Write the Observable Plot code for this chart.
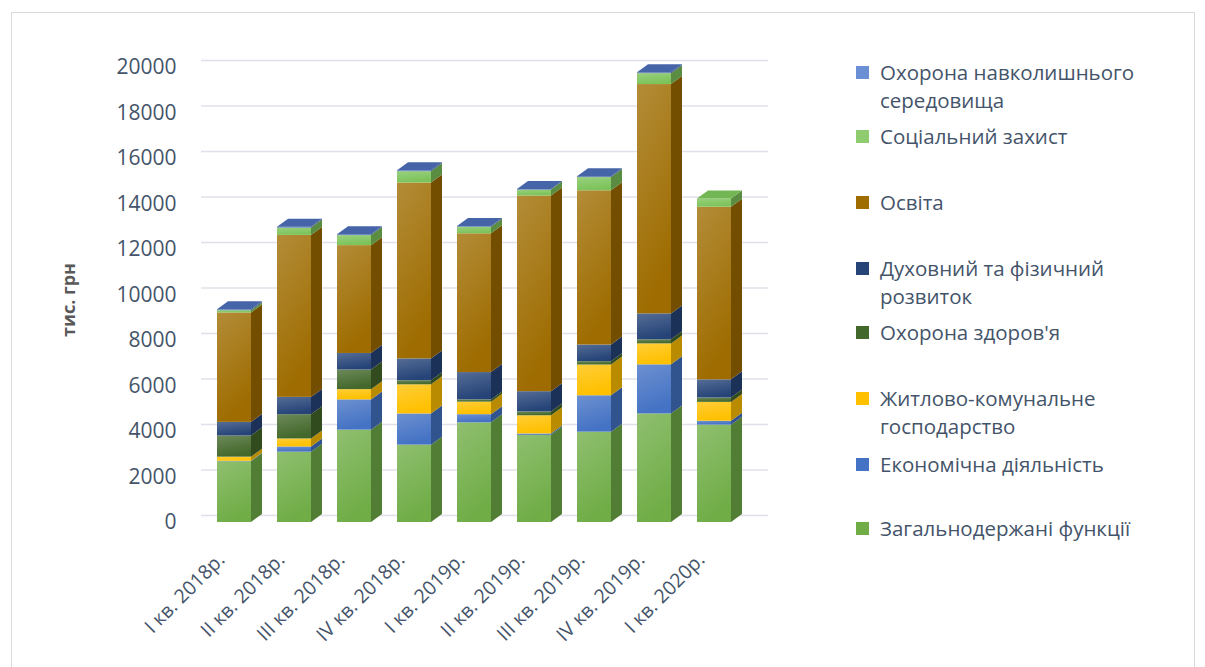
<!DOCTYPE html>
<html><head><meta charset="utf-8">
<script src="https://cdn.jsdelivr.net/npm/d3@7"></script>
<script src="https://cdn.jsdelivr.net/npm/@observablehq/plot@0.6"></script>
<style>
body{margin:0;background:#fff;font-family:"Open Sans",sans-serif;}
#frame{position:absolute;left:11px;top:12px;width:1184px;height:660px;border:1px solid #d9d9d9;box-sizing:border-box;}
#chart{position:absolute;left:0;top:0;}
#ylab{position:absolute;left:68px;top:300px;transform:translate(-50%,-50%) rotate(-90deg);font-weight:bold;font-size:18px;color:#595959;white-space:nowrap;}
.leg{position:absolute;left:880px;width:310px;font-size:20.5px;line-height:28px;color:#44546a;}
.sw{position:absolute;left:-24px;top:8px;width:13px;height:13px;}
</style></head>
<body>
<div id="frame"></div>
<div id="chart"></div>
<div id="ylab">тис. грн</div>
<div id="legend"></div>
<script>
const quarters = ["I кв. 2018р.", "II кв. 2018р.", "III кв. 2018р.", "IV кв. 2018р.", "I кв. 2019р.", "II кв. 2019р.", "III кв. 2019р.", "IV кв. 2019р.", "I кв. 2020р."];
const seriesNames = ["Загальнодержані функції", "Економічна діяльність", "Житлово-комунальне господарство", "Охорона здоров'я", "Духовний та фізичний розвиток", "Освіта", "Соціальний захист", "Охорона навколишнього середовища"];
const general     = [2670, 3090, 4060, 3400, 4380, 3830, 3970, 4770, 4280];
const economic    = [20, 230, 1330, 1370, 360, 60, 1600, 2160, 170];
const housing     = [180, 350, 450, 1280, 550, 800, 1350, 920, 830];
const health      = [930, 1070, 860, 180, 100, 170, 150, 180, 190];
const spiritual   = [600, 760, 730, 960, 1200, 890, 730, 1140, 800];
const education   = [4810, 7120, 4740, 7730, 6100, 8600, 6780, 10080, 7590];
const social      = [100, 320, 440, 500, 290, 260, 580, 480, 360];
const environment = [40, 40, 40, 40, 30, 30, 40, 40, 0];
const yTicks = [0, 2000, 4000, 6000, 8000, 10000, 12000, 14000, 16000, 18000, 20000];
const colors = ["#70ad47", "#4472c4", "#ffc000", "#43682b", "#264478", "#9e6c00", "#7cc35a", "#4a6cb4"];
const legendColors = ["#70ad47", "#4472c4", "#ffc000", "#43682b", "#264478", "#9e6c00", "#8fcc70", "#6a8fd4"];

const seriesValues = [general, economic, housing, health, spiritual, education, social, environment];
const data = [];
seriesNames.forEach((s, j) => quarters.forEach((q, i) => data.push({quarter: q, series: s, value: seriesValues[j][i]})));

const hasAxisMark = typeof Plot.axisX === "function";
const marks = [
  Plot.ruleY(yTicks, {stroke: "#e0e0ea", strokeWidth: 1.5, dx: 10, dy: -7}),
  Plot.barY(data, {x: "quarter", y: "value", fill: "series", order: seriesNames})
];
if (hasAxisMark) marks.push(Plot.axisX({tickRotate: -45, tickSize: 0, tickPadding: 12, dx: -13, dy: 22, fontSize: 19.5, label: null}));

const plot = Plot.plot({
  width: 840,
  height: 667,
  marginLeft: 191,
  marginRight: 82,
  marginTop: 67,
  marginBottom: 145,
  style: {fontSize: "21px", fontFamily: "'Open Sans', sans-serif", color: "#44546a", background: "transparent"},
  x: {domain: quarters, padding: 0.43, tickRotate: -45, tickSize: 0, tickPadding: 25, label: null},
  y: {domain: [0, 20000], ticks: yTicks, tickSize: 0, tickPadding: 15, label: null, tickFormat: d => String(d)},
  color: {domain: seriesNames, range: colors},
  marks
});
document.getElementById("chart").appendChild(plot);

// pseudo-3D faces derived from the rendered bars
(function () {
  const svg = plot;
  const ns = "http://www.w3.org/2000/svg";
  const defs = document.createElementNS(ns, "defs");
  defs.innerHTML = '<linearGradient id="shine" x1="0" y1="0" x2="0.3" y2="1"><stop offset="0" stop-color="#fff" stop-opacity="0.22"/><stop offset="1" stop-color="#fff" stop-opacity="0"/></linearGradient>';
  svg.insertBefore(defs, svg.firstChild);
  const barG = svg.querySelector('g[aria-label="bar"]');
  if (!barG) return;
  const rects = Array.from(barG.querySelectorAll("rect"));
  const dx = 11, dy = -8;
  const g = document.createElementNS(ns, "g");
  const tops = new Map();
  rects.forEach(r => {
    const x = +r.getAttribute("x"), y = +r.getAttribute("y"), w = +r.getAttribute("width"), h = +r.getAttribute("height");
    const fill = r.getAttribute("fill");
    if (h > 0.3) {
      const side = document.createElementNS(ns, "polygon");
      side.setAttribute("points", `${x+w},${y} ${x+w+dx},${y+dy} ${x+w+dx},${y+h+dy} ${x+w},${y+h}`);
      side.setAttribute("fill", d3.color(fill).darker(0.9).formatHex());
      g.appendChild(side);
      const sh = document.createElementNS(ns, "rect");
      sh.setAttribute("x", x); sh.setAttribute("y", y); sh.setAttribute("width", w); sh.setAttribute("height", h);
      sh.setAttribute("fill", "url(#shine)");
      g.appendChild(sh);
      const key = Math.round(x);
      if (!tops.has(key) || y < tops.get(key).y) tops.set(key, {x, y, w, fill});
    }
  });
  tops.forEach(({x, y, w, fill}) => {
    const top = document.createElementNS(ns, "polygon");
    top.setAttribute("points", `${x},${y} ${x+dx},${y+dy} ${x+w+dx},${y+dy} ${x+w},${y}`);
    top.setAttribute("fill", d3.color(fill).darker(0.2).formatHex());
    g.appendChild(top);
  });
  barG.parentNode.insertBefore(g, barG.nextSibling);
})();

// legend
const legendOrder = [7, 6, 5, 4, 3, 2, 1, 0];
const legendTops = [58, 122, 188, 254, 318, 384, 450, 514];
const legendLabels = {
  7: "Охорона навколишнього<br>середовища",
  4: "Духовний та фізичний<br>розвиток",
  2: "Житлово-комунальне<br>господарство"
};
const leg = document.getElementById("legend");
legendOrder.forEach((j, k) => {
  const d = document.createElement("div");
  d.className = "leg";
  d.style.top = legendTops[k] + "px";
  d.innerHTML = `<span class="sw" style="background:${legendColors[j]}"></span>${legendLabels[j] || seriesNames[j]}`;
  leg.appendChild(d);
});
</script>
</body></html>
